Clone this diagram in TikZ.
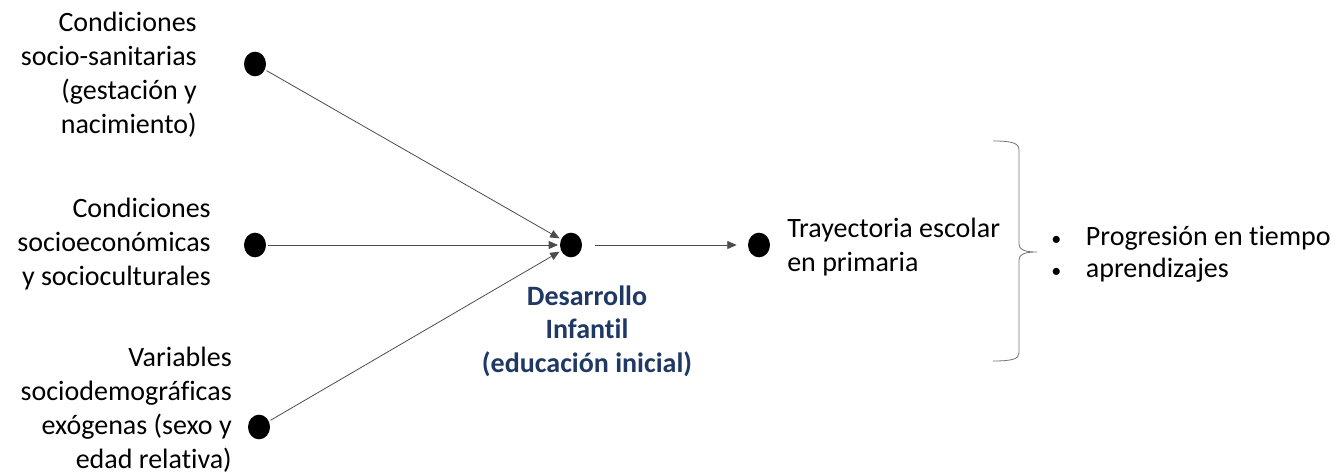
\documentclass[tikz,border=0pt]{standalone}
\usepackage{fontspec}
\setmainfont[Ligatures=NoCommon]{Carlito}
\usepackage{tikz}
\usetikzlibrary{arrows.meta,shapes.geometric}
\definecolor{titleblue}{RGB}{31,56,100}

\begin{document}
\begin{tikzpicture}[x=0.75pt,y=-0.75pt,
		dot/.style={ellipse,fill=black,minimum width=16.5pt,minimum height=18.5pt,inner sep=0pt,outer sep=1.5pt},
		link/.style={draw=black!70,line width=0.6pt,-{Triangle[length=7pt,width=6pt]}},
		lbl/.style={font=\fontsize{21}{25.5}\selectfont,inner sep=0pt}]
			%%%%% START %%%%%
			
			\useasboundingbox (0,0) rectangle (1337,474);
			
			\node[dot] (ss) at (255,64) {};
			\node[dot] (se) at (255,245) {};
			\node[dot] (sd) at (259,427) {};
			\node[dot] (di) at (571,245) {};
			\node[dot] (te) at (759,245) {};
			
			\node[lbl,align=right,anchor=east] (ssl) at (197,75) {Condiciones\\socio-sanitarias\\(gestación y\\nacimiento)};
			\node[lbl,align=right,anchor=east] (sel) at (211,244) {Condiciones\\socioeconómicas\\y socioculturales};
			\node[lbl,align=right,anchor=east] (sdl) at (232,410) {Variables\\sociodemográficas\\exógenas (sexo y\\edad relativa)};
			
			\node[lbl,align=center,font=\fontsize{21}{25}\selectfont\bfseries,text=titleblue] (dil) at (587,331) {Desarrollo\\Infantil\\(educación inicial)};
			
			\node[lbl,align=left,anchor=west] (tel) at (787,247) {Trayectoria escolar\\en primaria};
			
			\draw[black!55,line width=0.6pt] (993,141) .. controls (1012,141) and (1019,143) .. (1019,150) -- (1019,244)
				.. controls (1019,250) and (1025,252) .. (1037,252)
				.. controls (1025,252) and (1019,254) .. (1019,260) -- (1019,353)
				.. controls (1019,359) and (1012,361) .. (993,361);
			
			\node[lbl,align=left,anchor=west,font=\fontsize{21}{24}\selectfont] (res) at (1051,254) {\makebox[26pt][l]{\fontsize{15}{15}\selectfont\textbullet}Progresión en tiempo\\\makebox[26pt][l]{\fontsize{15}{15}\selectfont\textbullet}aprendizajes};
			
			\draw[link] (ss) -- (di);
			\draw[link] (se) -- (di);
			\draw[link] (sd) -- (di);
			\draw[link,shorten <=8pt,shorten >=7pt] (di) -- (te);
			
			%%%%% END %%%%%
		\end{tikzpicture}
\end{document}
